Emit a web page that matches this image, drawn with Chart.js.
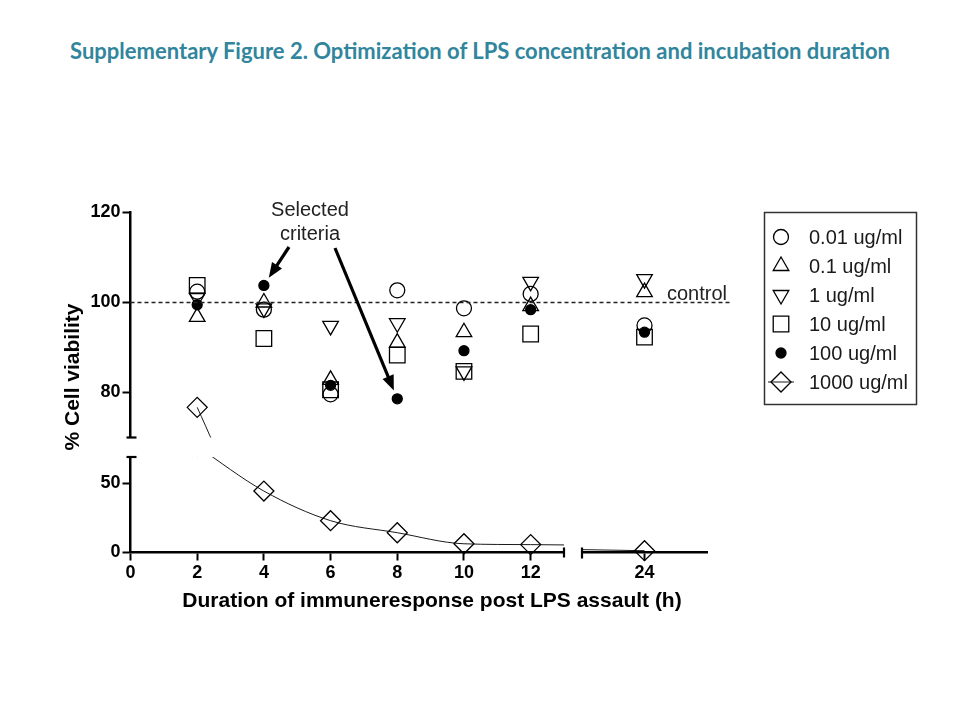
<!DOCTYPE html>
<html>
<head>
<meta charset="utf-8">
<title>Supplementary Figure 2</title>
<script src="https://cdn.jsdelivr.net/npm/chart.js@4.4.1/dist/chart.umd.min.js"></script>
<style>
  html, body { margin: 0; padding: 0; background: #fff; }
  #wrap { position: relative; width: 960px; height: 720px; overflow: hidden; }
  #wrap canvas { position: absolute; left: 0; top: 0; }
  .fig-title { position: absolute; left: 0; top: 38px; width: 960px; text-align: center;
    font: bold 22px Lato, "Open Sans", sans-serif; line-height: 26px; color: #31859c; }
  .y-title { position: absolute; left: -78px; top: 365px; width: 300px; height: 24px; line-height: 24px;
    text-align: center; font: bold 21px "Liberation Sans", Arial, sans-serif; color: #000;
    transform: rotate(-90deg); }
  .x-title { position: absolute; left: 132px; top: 588px; width: 600px; line-height: 24px;
    text-align: center; font: bold 21px "Liberation Sans", Arial, sans-serif; color: #000; }
</style>
</head>
<body>
<div id="wrap">
  <div class="fig-title">Supplementary Figure 2. Optimization of LPS concentration and incubation duration</div>
  <canvas id="upperLeft" width="960" height="720"></canvas>
  <canvas id="upperRight" width="960" height="720"></canvas>
  <canvas id="lowerLeft" width="960" height="720"></canvas>
  <canvas id="lowerRight" width="960" height="720"></canvas>
  <div class="y-title">% Cell viability</div>
  <div class="x-title">Duration of immuneresponse post LPS assault (h)</div>
</div>
<script>
console.log("figure script loaded");

Chart.defaults.font.family = '"Liberation Sans", Arial, sans-serif';
Chart.defaults.color = '#000';

// --- data ---
const hours = [2, 4, 6, 8, 10, 12, 24];
const seriesLabels = ['0.01 ug/ml', '0.1 ug/ml', '1 ug/ml', '10 ug/ml', '100 ug/ml', '1000 ug/ml'];
const viab001 = [102.4, 98.4, 79.6, 102.7, 98.7, 101.9, 94.9];
const viab01 = [96.8, 100, 82.8, 91.1, 93.4, 99.2, 102.3];
const viab1 = [101, 98.7, 94.8, 95.4, 84.7, 104.6, 105.2];
const viab10 = [103.8, 92, 80.6, 88.3, 84.7, 93, 92.3];
const viab100 = [99.5, 103.8, 81.6, 78.6, 89.3, 98.4, 93.4];
const viab1000 = [76.7, 44.4, 23, 14.3, 6.3, 5.7, 1.3];
const seriesValues = [viab001, viab01, viab1, viab10, viab100, viab1000];

const leftXTicks = [0, 2, 4, 6, 8, 10, 12];
const rightXTicks = [24];
const upperYTicks = [80, 100, 120];
const lowerYTicks = [0, 50];
const controlValue = 100;
const selectedHours = [4, 8];   // arrows point at the 100 ug/ml points

// --- marker looks, one per series ---
const markerStyles = [
    { pointStyle: 'circle', radius: 7.5, rotation: 0, fill: 'rgba(0,0,0,0)' },
    { pointStyle: 'triangle', radius: 9, rotation: 0, fill: 'rgba(0,0,0,0)' },
    { pointStyle: 'triangle', radius: 9, rotation: 180, fill: 'rgba(0,0,0,0)' },
    { pointStyle: 'rect', radius: 11, rotation: 0, fill: 'rgba(0,0,0,0)' },
    { pointStyle: 'circle', radius: 5, rotation: 0, fill: '#000' },
    { pointStyle: 'rectRot', radius: 10, rotation: 0, fill: 'rgba(0,0,0,0)', line: true }
];

const Y_AXIS_W = 50;
const X_AXIS_H = 30;

function buildDatasets(clip) {
    return seriesValues.map((vals, i) => {
        const st = markerStyles[i];
        return {
            label: seriesLabels[i],
            data: hours.map((h, j) => ({ x: h, y: vals[j] })),
            showLine: !!st.line,
            borderColor: '#1a1a1a',
            borderWidth: 1,
            cubicInterpolationMode: 'monotone',
            pointStyle: st.pointStyle,
            pointRadius: st.radius,
            pointRotation: st.rotation,
            pointBorderColor: '#000',
            pointBorderWidth: 1.3,
            pointBackgroundColor: st.fill,
            fill: false,
            clip: clip
        };
    });
}

function axis(show, min, max, tickValues) {
    return {
        type: 'linear',
        display: show,
        min: min,
        max: max,
        afterBuildTicks: s => { s.ticks = tickValues.map(v => ({ value: v })); },
        ticks: { color: '#000', font: { size: 18, weight: 'bold' }, padding: 2, autoSkip: false, maxRotation: 0 },
        grid: { display: true, drawOnChartArea: false, drawTicks: true, tickLength: 8, tickWidth: 2, tickColor: '#000' },
        border: { display: true, color: '#000', width: 2.5 }
    };
}

// short caps that mark the axis breaks
const breakCaps = {
    id: 'breakCaps',
    afterDraw(chart, args, opts) {
        const { ctx, chartArea: a } = chart;
        ctx.save();
        ctx.strokeStyle = '#000';
        ctx.lineWidth = 2.2;
        (opts.caps || []).forEach(c => {
            ctx.beginPath();
            if (c === 'yBottom') { ctx.moveTo(a.left - 4, a.bottom); ctx.lineTo(a.left + 6, a.bottom); }
            if (c === 'yTop') { ctx.moveTo(a.left - 4, a.top); ctx.lineTo(a.left + 6, a.top); }
            if (c === 'xRight') { ctx.moveTo(a.right, a.bottom - 5); ctx.lineTo(a.right, a.bottom + 5); }
            if (c === 'xLeft') { ctx.moveTo(a.left, a.bottom - 5); ctx.lineTo(a.left, a.bottom + 6); }
            ctx.stroke();
        });
        ctx.restore();
    }
};

function drawArrow(ctx, from, target, gap) {
    const dx = target[0] - from[0], dy = target[1] - from[1];
    const len = Math.hypot(dx, dy);
    const ux = dx / len, uy = dy / len;
    const tip = [target[0] - ux * gap, target[1] - uy * gap];
    const headLen = 15, headW = 6;
    const base = [tip[0] - ux * headLen, tip[1] - uy * headLen];
    ctx.beginPath();
    ctx.moveTo(from[0], from[1]);
    ctx.lineTo(base[0] + ux * 2, base[1] + uy * 2);
    ctx.lineWidth = 3.2;
    ctx.stroke();
    ctx.beginPath();
    ctx.moveTo(tip[0], tip[1]);
    ctx.lineTo(base[0] - uy * headW, base[1] + ux * headW);
    ctx.lineTo(base[0] + uy * headW, base[1] - ux * headW);
    ctx.closePath();
    ctx.fill();
}

// control line, its label and the "Selected criteria" callout
const annotations = {
    id: 'annotations',
    afterDatasetsDraw(chart) {
        const { ctx, chartArea, scales: { x, y } } = chart;
        const yc = y.getPixelForValue(controlValue);
        ctx.save();
        ctx.strokeStyle = '#222';
        ctx.lineWidth = 1.3;
        ctx.setLineDash([4, 3]);
        ctx.beginPath();
        ctx.moveTo(chartArea.left, yc);
        ctx.lineTo(730, yc);
        ctx.stroke();
        ctx.setLineDash([]);

        ctx.fillStyle = '#222';
        ctx.font = '20px "Liberation Sans", Arial, sans-serif';
        ctx.textAlign = 'left';
        ctx.textBaseline = 'alphabetic';
        ctx.fillText('control', 667, yc - 3);

        ctx.textAlign = 'center';
        ctx.fillText('Selected', 310, 216);
        ctx.fillText('criteria', 310, 240);

        ctx.strokeStyle = '#000';
        ctx.fillStyle = '#000';
        const starts = [[289, 247], [335, 248]];
        selectedHours.forEach((h, i) => {
            const v = viab100[hours.indexOf(h)];
            drawArrow(ctx, starts[i], [x.getPixelForValue(h), y.getPixelForValue(v)], 9);
        });
        ctx.restore();
    }
};

const legendBox = {
    id: 'legendBox',
    afterDraw(chart) {
        const ctx = chart.ctx;
        ctx.save();
        ctx.strokeStyle = '#333';
        ctx.lineWidth = 1.5;
        ctx.strokeRect(764.5, 212.5, 152, 192);
        chart.data.datasets.forEach((ds, i) => {
            const cx = 781, cy = 237 + i * 29;
            if (ds.showLine) {
                ctx.strokeStyle = ds.borderColor;
                ctx.lineWidth = 1;
                ctx.beginPath();
                ctx.moveTo(cx - 13, cy);
                ctx.lineTo(cx + 13, cy);
                ctx.stroke();
            }
            ctx.strokeStyle = ds.pointBorderColor;
            ctx.fillStyle = ds.pointBackgroundColor;
            ctx.lineWidth = ds.pointBorderWidth;
            Chart.helpers.drawPoint(ctx, {
                pointStyle: ds.pointStyle, radius: ds.pointRadius,
                rotation: ds.pointRotation, borderWidth: ds.pointBorderWidth
            }, cx, cy);
            ctx.fillStyle = '#1a1a1a';
            ctx.font = '20px "Liberation Sans", Arial, sans-serif';
            ctx.textAlign = 'left';
            ctx.textBaseline = 'middle';
            ctx.fillText(ds.label, 809, cy + 1);
        });
        ctx.restore();
    }
};

// one chart per panel of the broken axes
function makePanel(id, area, xr, yr, showX, showY, clip, caps, extra) {
    const xAxis = axis(showX, xr[0], xr[1], xr[2]);
    if (showX) xAxis.afterFit = s => { s.height = X_AXIS_H; };
    const yAxis = axis(showY, yr[0], yr[1], yr[2]);
    if (showY) yAxis.afterFit = s => { s.width = Y_AXIS_W; };
    return new Chart(document.getElementById(id), {
        type: 'scatter',
        data: { datasets: buildDatasets(clip) },
        options: {
            responsive: false,
            animation: false,
            events: [],
            layout: {
                padding: {
                    left: area.left - (showY ? Y_AXIS_W : 0),
                    right: 960 - area.right,
                    top: area.top,
                    bottom: 720 - area.bottom - (showX ? X_AXIS_H : 0)
                }
            },
            elements: { line: { capBezierPoints: false } },
            scales: { x: xAxis, y: yAxis },
            plugins: {
                legend: { display: false },
                tooltip: { enabled: false },
                breakCaps: { caps: caps }
            }
        },
        plugins: [breakCaps].concat(extra || [])
    });
}

const leftX = [0, 13, leftXTicks];
const rightX = [22.13, 25.87, rightXTicks];
const upperY = [70, 120, upperYTicks];
const lowerY = [0, 69, lowerYTicks];
const clipUpper = { left: 0, right: 0, top: 0, bottom: 0 };
const clipLower = { left: 0, right: 0, top: 0, bottom: 15 };

makePanel('upperLeft', { left: 130.5, right: 564, top: 212.5, bottom: 437.5 }, leftX, upperY,
    false, true, clipUpper, ['yBottom'], [annotations]);
makePanel('upperRight', { left: 582, right: 707, top: 212.5, bottom: 437.5 }, rightX, upperY,
    false, false, clipUpper, [], [legendBox]);
makePanel('lowerLeft', { left: 130.5, right: 564, top: 457, bottom: 552.5 }, leftX, lowerY,
    true, true, clipLower, ['yTop', 'xRight']);
makePanel('lowerRight', { left: 582, right: 707, top: 457, bottom: 552.5 }, rightX, lowerY,
    true, false, clipLower, ['xLeft']);
</script>
</body>
</html>
